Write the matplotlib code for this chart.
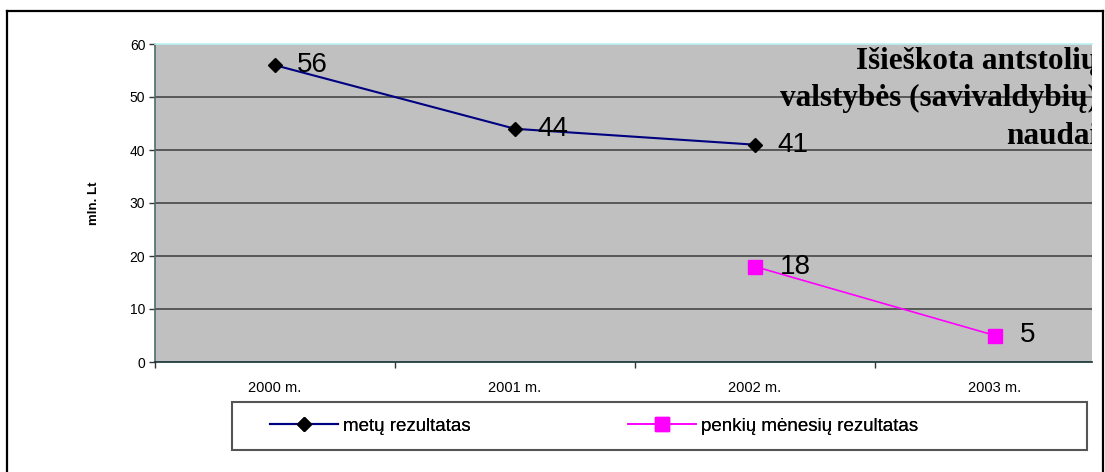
import numpy as np
import matplotlib
matplotlib.use("Agg")
import matplotlib.pyplot as plt
from matplotlib.lines import Line2D
from matplotlib.patches import Rectangle

# ---- data ----
categories = ["2000 m.", "2001 m.", "2002 m.", "2003 m."]
metu_rezultatas = [56, 44, 41, np.nan]
penkiu_men_rezultatas = [np.nan, np.nan, 18, 5]
y_ticks = [0, 10, 20, 30, 40, 50, 60]
title_lines = ["Išieškota antstolių", "valstybės (savivaldybių)", "naudai"]
series_names = ["metų rezultatas", "penkių mėnesių rezultatas"]
y_label = "mln. Lt"

W, H = 1105, 472
fig = plt.figure(figsize=(W / 100, H / 100), dpi=100)
fig.patch.set_facecolor("white")

plt.rcParams["font.family"] = ["Liberation Sans", "DejaVu Sans"]

# outer chart frame (bottom edge runs past the canvas)
frame_kw = dict(color="black", lw=1.6, solid_capstyle="projecting")
fig.add_artist(Line2D([7 / W, 7 / W], [0, 1 - 11 / H], transform=fig.transFigure, **frame_kw))
fig.add_artist(Line2D([7 / W, 1103 / W], [1 - 11 / H, 1 - 11 / H], transform=fig.transFigure, **frame_kw))
fig.add_artist(Line2D([1103 / W, 1103 / W], [0, 1 - 11 / H], transform=fig.transFigure, **frame_kw))

# plot area
left, right, top, bottom = 155, 1092, 44, 362
ax = fig.add_axes([left / W, 1 - bottom / H, (right - left) / W, (bottom - top) / H])
ax.set_facecolor("#C0C0C0")

x = np.arange(len(categories))
px_per_cat = 240.0
ax.set_xlim(-0.5, -0.5 + (right - left) / px_per_cat)
ax.set_ylim(0, 60)

for s in ("left", "bottom", "top", "right"):
    ax.spines[s].set_linewidth(1.2)
ax.spines["left"].set_color("#4A6E6E")
ax.spines["bottom"].set_color("#103030")
ax.spines["top"].set_color("#B8F4F4")
ax.spines["right"].set_visible(False)

ax.set_yticks(y_ticks)
ax.set_yticklabels([str(v) for v in y_ticks])
ax.tick_params(axis="y", direction="out", length=4, width=1, color="#333333",
               labelsize=10, pad=3)
for v in y_ticks[1:-1]:
    ax.axhline(v, color="#3C3C3C", lw=1.1, zorder=1)

ax.set_xticks(x)
ax.set_xticklabels(categories)
ax.tick_params(axis="x", which="major", length=0, labelsize=10.5, pad=14)
ax.set_xticks(np.arange(-0.5, len(categories) - 0.5, 1.0), minor=True)
ax.tick_params(axis="x", which="minor", direction="out", length=4, width=1, color="#333333")

ax.set_ylabel(y_label, fontsize=9.5, fontweight="bold")
ax.yaxis.set_label_coords((100 - left) / (right - left), 0.5)

# series
ax.plot(x, metu_rezultatas, color="#000080", lw=1.5, marker="D", ms=7.5,
        mfc="black", mec="black", zorder=3)
ax.plot(x, penkiu_men_rezultatas, color="#FF00FF", lw=1.2, marker="s", ms=10,
        mfc="#FF00FF", mec="#FF00FF", zorder=3)

for xi, v in zip(x, metu_rezultatas):
    if not np.isnan(v):
        ax.annotate(f"{v:g}", (xi, v), xytext=(16, 0), textcoords="offset points",
                    ha="left", va="center", fontsize=20, zorder=4)
for xi, v in zip(x, penkiu_men_rezultatas):
    if not np.isnan(v):
        ax.annotate(f"{v:g}", (xi, v), xytext=(18, 0), textcoords="offset points",
                    ha="left", va="center", fontsize=20, zorder=4)

# chart title, right-aligned and clipped by the plot area
title_y = [62, 98, 137]
for line, ty in zip(title_lines, title_y):
    t = ax.text(1098 / W, 1 - ty / H, line, transform=fig.transFigure,
                ha="right", va="center", fontsize=22.5, fontweight="bold",
                family=["Liberation Serif", "DejaVu Serif"], zorder=5)
    t.set_clip_on(True)
    t.set_clip_box(ax.bbox)

# legend box
fig.add_artist(Rectangle((232 / W, 1 - 450 / H), 855 / W, 48 / H,
                         transform=fig.transFigure, fill=True, facecolor="white",
                         edgecolor="#555555", lw=1.5))
h1 = Line2D([], [], color="#000080", lw=1.5, marker="D", ms=7.5, mfc="black", mec="black")
h2 = Line2D([], [], color="#FF00FF", lw=1.2, marker="s", ms=10, mfc="#FF00FF", mec="#FF00FF")
leg_y = 1 - 426 / H
for h, name, lx in ((h1, series_names[0], 270), (h2, series_names[1], 628)):
    lg = fig.legend([h], [name], loc="center left", bbox_to_anchor=(lx / W, leg_y),
                    bbox_transform=fig.transFigure, frameon=False, fontsize=13.5,
                    borderpad=0, borderaxespad=0, handlelength=3.6, handletextpad=0.3,
                    markerscale=1.0)
    fig.add_artist(lg)

fig.savefig("out.png", dpi=100)
